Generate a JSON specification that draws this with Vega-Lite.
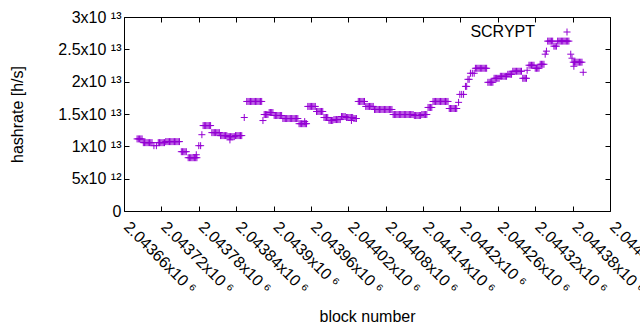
{
  "$schema": "https://vega.github.io/schema/vega-lite/v6.json",
  "width": 486,
  "height": 194,
  "autosize": {"type": "none"},
  "padding": {"left": 124, "top": 17, "right": 30, "bottom": 119},
  "background": "white",
  "config": {
    "font": "Liberation Sans",
    "view": {"stroke": "black", "strokeWidth": 1},
    "axis": {
      "grid": false,
      "domain": false,
      "tickColor": "black",
      "tickSize": -5,
      "tickWidth": 1,
      "labelFont": "Liberation Sans",
      "labelFontSize": 16,
      "labelColor": "black",
      "titleFont": "Liberation Sans",
      "titleFontSize": 16,
      "titleFontWeight": "normal",
      "titleColor": "black",
      "labelOverlap": false,
      "labelFlush": false
    }
  },
  "data": {
    "values": [
      {"b": 2043681, "h": 1.115e13}, {"b": 2043683, "h": 1.115e13}, {"b": 2043685, "h": 1.115e13}, {"b": 2043687, "h": 1.115e13}, {"b": 2043689, "h": 1.115e13},
      {"b": 2043691, "h": 1.057e13}, {"b": 2043693, "h": 1.057e13}, {"b": 2043695, "h": 1.057e13}, {"b": 2043697, "h": 1.057e13}, {"b": 2043699, "h": 1.057e13}, {"b": 2043701, "h": 1.057e13}, {"b": 2043703, "h": 1.057e13}, {"b": 2043705, "h": 1.057e13},
      {"b": 2043708, "h": 1.01e13}, {"b": 2043712, "h": 1.01e13},
      {"b": 2043715, "h": 1.057e13}, {"b": 2043717, "h": 1.057e13}, {"b": 2043719, "h": 1.057e13}, {"b": 2043721, "h": 1.057e13}, {"b": 2043723, "h": 1.057e13}, {"b": 2043725, "h": 1.057e13},
      {"b": 2043727, "h": 1.073e13}, {"b": 2043729, "h": 1.073e13}, {"b": 2043731, "h": 1.073e13}, {"b": 2043733, "h": 1.073e13}, {"b": 2043735, "h": 1.073e13}, {"b": 2043737, "h": 1.073e13}, {"b": 2043739, "h": 1.073e13}, {"b": 2043741, "h": 1.073e13}, {"b": 2043743, "h": 1.073e13}, {"b": 2043745, "h": 1.073e13}, {"b": 2043747, "h": 1.073e13}, {"b": 2043749, "h": 1.073e13},
      {"b": 2043752, "h": 9.17e12}, {"b": 2043754, "h": 9.17e12}, {"b": 2043756, "h": 9.17e12}, {"b": 2043758, "h": 9.17e12}, {"b": 2043760, "h": 9.17e12},
      {"b": 2043763, "h": 8.24e12}, {"b": 2043765, "h": 8.24e12}, {"b": 2043767, "h": 8.24e12}, {"b": 2043769, "h": 8.24e12}, {"b": 2043771, "h": 8.24e12}, {"b": 2043773, "h": 8.24e12}, {"b": 2043775, "h": 8.24e12}, {"b": 2043777, "h": 8.24e12}, {"b": 2043776, "h": 8.7e12},
      {"b": 2043780, "h": 1.01e13}, {"b": 2043783, "h": 1.01e13}, {"b": 2043785, "h": 1.18e13},
      {"b": 2043787, "h": 1.321e13}, {"b": 2043789, "h": 1.321e13}, {"b": 2043791, "h": 1.321e13}, {"b": 2043793, "h": 1.321e13}, {"b": 2043795, "h": 1.321e13}, {"b": 2043797, "h": 1.321e13}, {"b": 2043799, "h": 1.321e13},
      {"b": 2043801, "h": 1.212e13}, {"b": 2043803, "h": 1.212e13}, {"b": 2043805, "h": 1.212e13}, {"b": 2043807, "h": 1.212e13}, {"b": 2043809, "h": 1.212e13}, {"b": 2043811, "h": 1.212e13}, {"b": 2043813, "h": 1.212e13},
      {"b": 2043815, "h": 1.166e13}, {"b": 2043817, "h": 1.166e13}, {"b": 2043819, "h": 1.166e13}, {"b": 2043821, "h": 1.166e13}, {"b": 2043823, "h": 1.166e13}, {"b": 2043825, "h": 1.166e13},
      {"b": 2043827, "h": 1.15e13}, {"b": 2043829, "h": 1.15e13}, {"b": 2043831, "h": 1.15e13}, {"b": 2043833, "h": 1.15e13}, {"b": 2043835, "h": 1.15e13}, {"b": 2043837, "h": 1.15e13}, {"b": 2043830, "h": 1.1e13},
      {"b": 2043839, "h": 1.166e13}, {"b": 2043841, "h": 1.166e13}, {"b": 2043843, "h": 1.166e13}, {"b": 2043845, "h": 1.166e13}, {"b": 2043847, "h": 1.166e13}, {"b": 2043849, "h": 1.166e13},
      {"b": 2043853, "h": 1.446e13},
      {"b": 2043857, "h": 1.694e13}, {"b": 2043859, "h": 1.694e13}, {"b": 2043861, "h": 1.694e13}, {"b": 2043863, "h": 1.694e13}, {"b": 2043865, "h": 1.694e13}, {"b": 2043867, "h": 1.694e13}, {"b": 2043869, "h": 1.694e13}, {"b": 2043871, "h": 1.694e13}, {"b": 2043873, "h": 1.694e13}, {"b": 2043875, "h": 1.694e13}, {"b": 2043877, "h": 1.694e13}, {"b": 2043879, "h": 1.694e13}, {"b": 2043881, "h": 1.694e13},
      {"b": 2043883, "h": 1.399e13},
      {"b": 2043885, "h": 1.492e13}, {"b": 2043887, "h": 1.492e13}, {"b": 2043889, "h": 1.492e13}, {"b": 2043891, "h": 1.492e13},
      {"b": 2043893, "h": 1.523e13}, {"b": 2043895, "h": 1.523e13}, {"b": 2043897, "h": 1.523e13}, {"b": 2043899, "h": 1.523e13},
      {"b": 2043901, "h": 1.477e13}, {"b": 2043903, "h": 1.477e13}, {"b": 2043905, "h": 1.477e13}, {"b": 2043907, "h": 1.477e13}, {"b": 2043909, "h": 1.477e13}, {"b": 2043911, "h": 1.477e13}, {"b": 2043913, "h": 1.477e13},
      {"b": 2043915, "h": 1.43e13}, {"b": 2043917, "h": 1.43e13}, {"b": 2043919, "h": 1.43e13}, {"b": 2043921, "h": 1.43e13}, {"b": 2043923, "h": 1.43e13}, {"b": 2043925, "h": 1.43e13}, {"b": 2043927, "h": 1.43e13}, {"b": 2043929, "h": 1.43e13}, {"b": 2043931, "h": 1.43e13}, {"b": 2043933, "h": 1.43e13}, {"b": 2043935, "h": 1.43e13}, {"b": 2043937, "h": 1.43e13}, {"b": 2043939, "h": 1.43e13},
      {"b": 2043941, "h": 1.35e13}, {"b": 2043943, "h": 1.35e13}, {"b": 2043945, "h": 1.35e13}, {"b": 2043947, "h": 1.35e13}, {"b": 2043949, "h": 1.35e13}, {"b": 2043951, "h": 1.35e13}, {"b": 2043953, "h": 1.35e13}, {"b": 2043950, "h": 1.383e13},
      {"b": 2043955, "h": 1.617e13}, {"b": 2043957, "h": 1.617e13}, {"b": 2043959, "h": 1.617e13}, {"b": 2043961, "h": 1.617e13}, {"b": 2043963, "h": 1.617e13}, {"b": 2043965, "h": 1.617e13}, {"b": 2043967, "h": 1.617e13},
      {"b": 2043969, "h": 1.539e13}, {"b": 2043971, "h": 1.539e13}, {"b": 2043973, "h": 1.539e13}, {"b": 2043975, "h": 1.539e13}, {"b": 2043977, "h": 1.539e13}, {"b": 2043979, "h": 1.539e13},
      {"b": 2043981, "h": 1.446e13}, {"b": 2043983, "h": 1.446e13}, {"b": 2043985, "h": 1.446e13}, {"b": 2043987, "h": 1.446e13},
      {"b": 2043989, "h": 1.4e13}, {"b": 2043991, "h": 1.4e13}, {"b": 2043993, "h": 1.4e13}, {"b": 2043995, "h": 1.4e13},
      {"b": 2043997, "h": 1.414e13}, {"b": 2043999, "h": 1.414e13}, {"b": 2044001, "h": 1.414e13}, {"b": 2044003, "h": 1.414e13}, {"b": 2044005, "h": 1.414e13}, {"b": 2044007, "h": 1.414e13},
      {"b": 2044009, "h": 1.461e13}, {"b": 2044011, "h": 1.461e13}, {"b": 2044013, "h": 1.461e13}, {"b": 2044015, "h": 1.461e13},
      {"b": 2044017, "h": 1.446e13}, {"b": 2044019, "h": 1.446e13}, {"b": 2044021, "h": 1.446e13}, {"b": 2044023, "h": 1.446e13}, {"b": 2044025, "h": 1.446e13}, {"b": 2044027, "h": 1.446e13}, {"b": 2044025, "h": 1.4e13},
      {"b": 2044029, "h": 1.43e13}, {"b": 2044031, "h": 1.43e13}, {"b": 2044033, "h": 1.43e13},
      {"b": 2044036, "h": 1.694e13}, {"b": 2044038, "h": 1.694e13}, {"b": 2044040, "h": 1.694e13}, {"b": 2044042, "h": 1.694e13}, {"b": 2044044, "h": 1.694e13}, {"b": 2044046, "h": 1.694e13},
      {"b": 2044048, "h": 1.617e13}, {"b": 2044050, "h": 1.617e13}, {"b": 2044052, "h": 1.617e13}, {"b": 2044054, "h": 1.617e13}, {"b": 2044056, "h": 1.617e13}, {"b": 2044058, "h": 1.617e13}, {"b": 2044060, "h": 1.617e13},
      {"b": 2044062, "h": 1.57e13}, {"b": 2044064, "h": 1.57e13}, {"b": 2044066, "h": 1.57e13}, {"b": 2044068, "h": 1.57e13}, {"b": 2044070, "h": 1.57e13}, {"b": 2044072, "h": 1.57e13}, {"b": 2044074, "h": 1.57e13}, {"b": 2044076, "h": 1.57e13}, {"b": 2044078, "h": 1.57e13}, {"b": 2044080, "h": 1.57e13}, {"b": 2044082, "h": 1.57e13}, {"b": 2044084, "h": 1.57e13}, {"b": 2044086, "h": 1.57e13}, {"b": 2044088, "h": 1.57e13}, {"b": 2044090, "h": 1.57e13},
      {"b": 2044092, "h": 1.492e13}, {"b": 2044094, "h": 1.492e13}, {"b": 2044096, "h": 1.492e13}, {"b": 2044098, "h": 1.492e13}, {"b": 2044100, "h": 1.492e13}, {"b": 2044102, "h": 1.492e13}, {"b": 2044104, "h": 1.492e13}, {"b": 2044106, "h": 1.492e13}, {"b": 2044108, "h": 1.492e13}, {"b": 2044110, "h": 1.492e13}, {"b": 2044112, "h": 1.492e13}, {"b": 2044114, "h": 1.492e13}, {"b": 2044116, "h": 1.492e13}, {"b": 2044118, "h": 1.492e13}, {"b": 2044120, "h": 1.492e13}, {"b": 2044122, "h": 1.492e13}, {"b": 2044124, "h": 1.492e13},
      {"b": 2044126, "h": 1.477e13}, {"b": 2044128, "h": 1.477e13}, {"b": 2044130, "h": 1.477e13}, {"b": 2044132, "h": 1.477e13}, {"b": 2044134, "h": 1.477e13}, {"b": 2044136, "h": 1.477e13},
      {"b": 2044138, "h": 1.492e13}, {"b": 2044140, "h": 1.492e13}, {"b": 2044142, "h": 1.492e13}, {"b": 2044144, "h": 1.492e13}, {"b": 2044146, "h": 1.492e13},
      {"b": 2044148, "h": 1.601e13}, {"b": 2044150, "h": 1.601e13}, {"b": 2044152, "h": 1.601e13}, {"b": 2044154, "h": 1.601e13},
      {"b": 2044156, "h": 1.694e13}, {"b": 2044158, "h": 1.694e13}, {"b": 2044160, "h": 1.694e13}, {"b": 2044162, "h": 1.694e13}, {"b": 2044164, "h": 1.694e13}, {"b": 2044166, "h": 1.694e13}, {"b": 2044168, "h": 1.694e13}, {"b": 2044170, "h": 1.694e13}, {"b": 2044172, "h": 1.694e13}, {"b": 2044174, "h": 1.694e13}, {"b": 2044176, "h": 1.694e13}, {"b": 2044178, "h": 1.694e13}, {"b": 2044180, "h": 1.694e13},
      {"b": 2044182, "h": 1.585e13}, {"b": 2044184, "h": 1.585e13}, {"b": 2044186, "h": 1.585e13}, {"b": 2044188, "h": 1.585e13}, {"b": 2044190, "h": 1.585e13}, {"b": 2044192, "h": 1.585e13}, {"b": 2044194, "h": 1.585e13},
      {"b": 2044197, "h": 1.68e13},
      {"b": 2044199, "h": 1.803e13}, {"b": 2044202, "h": 1.803e13}, {"b": 2044205, "h": 1.803e13},
      {"b": 2044208, "h": 1.927e13}, {"b": 2044210, "h": 1.927e13},
      {"b": 2044212, "h": 2.036e13}, {"b": 2044214, "h": 2.036e13},
      {"b": 2044216, "h": 2.13e13}, {"b": 2044219, "h": 2.13e13}, {"b": 2044222, "h": 2.13e13},
      {"b": 2044224, "h": 2.207e13}, {"b": 2044226, "h": 2.207e13}, {"b": 2044228, "h": 2.207e13}, {"b": 2044230, "h": 2.207e13}, {"b": 2044232, "h": 2.207e13}, {"b": 2044234, "h": 2.207e13}, {"b": 2044236, "h": 2.207e13}, {"b": 2044238, "h": 2.207e13}, {"b": 2044240, "h": 2.207e13}, {"b": 2044242, "h": 2.207e13},
      {"b": 2044244, "h": 1.99e13}, {"b": 2044246, "h": 1.99e13}, {"b": 2044248, "h": 1.99e13}, {"b": 2044250, "h": 1.99e13}, {"b": 2044252, "h": 1.99e13},
      {"b": 2044254, "h": 2.052e13}, {"b": 2044256, "h": 2.052e13}, {"b": 2044258, "h": 2.052e13}, {"b": 2044260, "h": 2.052e13}, {"b": 2044262, "h": 2.052e13},
      {"b": 2044264, "h": 2.083e13}, {"b": 2044266, "h": 2.083e13}, {"b": 2044268, "h": 2.083e13}, {"b": 2044270, "h": 2.083e13}, {"b": 2044272, "h": 2.083e13}, {"b": 2044274, "h": 2.083e13},
      {"b": 2044276, "h": 2.114e13}, {"b": 2044278, "h": 2.114e13}, {"b": 2044280, "h": 2.114e13}, {"b": 2044282, "h": 2.114e13},
      {"b": 2044284, "h": 2.161e13}, {"b": 2044286, "h": 2.161e13}, {"b": 2044288, "h": 2.161e13}, {"b": 2044290, "h": 2.161e13}, {"b": 2044292, "h": 2.161e13}, {"b": 2044294, "h": 2.161e13}, {"b": 2044296, "h": 2.161e13}, {"b": 2044298, "h": 2.161e13},
      {"b": 2044300, "h": 2.052e13}, {"b": 2044302, "h": 2.052e13}, {"b": 2044304, "h": 2.052e13}, {"b": 2044306, "h": 2.052e13}, {"b": 2044307, "h": 2.176e13},
      {"b": 2044310, "h": 2.254e13}, {"b": 2044312, "h": 2.254e13}, {"b": 2044314, "h": 2.254e13}, {"b": 2044316, "h": 2.254e13}, {"b": 2044318, "h": 2.254e13},
      {"b": 2044320, "h": 2.207e13}, {"b": 2044322, "h": 2.207e13}, {"b": 2044324, "h": 2.207e13}, {"b": 2044326, "h": 2.207e13},
      {"b": 2044328, "h": 2.269e13}, {"b": 2044330, "h": 2.269e13}, {"b": 2044332, "h": 2.269e13}, {"b": 2044334, "h": 2.269e13},
      {"b": 2044336, "h": 2.425e13}, {"b": 2044338, "h": 2.472e13},
      {"b": 2044340, "h": 2.627e13}, {"b": 2044342, "h": 2.627e13}, {"b": 2044344, "h": 2.627e13}, {"b": 2044346, "h": 2.627e13}, {"b": 2044348, "h": 2.627e13},
      {"b": 2044350, "h": 2.549e13}, {"b": 2044352, "h": 2.549e13}, {"b": 2044354, "h": 2.549e13},
      {"b": 2044356, "h": 2.627e13}, {"b": 2044358, "h": 2.627e13}, {"b": 2044360, "h": 2.627e13}, {"b": 2044362, "h": 2.627e13}, {"b": 2044364, "h": 2.627e13}, {"b": 2044366, "h": 2.627e13}, {"b": 2044368, "h": 2.627e13}, {"b": 2044370, "h": 2.627e13}, {"b": 2044372, "h": 2.627e13}, {"b": 2044374, "h": 2.627e13},
      {"b": 2044377, "h": 2.425e13}, {"b": 2044379, "h": 2.363e13},
      {"b": 2044381, "h": 2.301e13}, {"b": 2044383, "h": 2.301e13}, {"b": 2044385, "h": 2.301e13}, {"b": 2044387, "h": 2.301e13}, {"b": 2044389, "h": 2.301e13}, {"b": 2044391, "h": 2.301e13}, {"b": 2044393, "h": 2.301e13}, {"b": 2044395, "h": 2.301e13}, {"b": 2044382, "h": 2.238e13},
      {"b": 2044397, "h": 2.145e13}
    ]
  },
  "layer": [
    {
      "mark": {"type": "point", "shape": "M-1,0L1,0M0,-1L0,1", "filled": false, "size": 49, "strokeWidth": 1, "opacity": 1},
      "encoding": {
        "x": {
          "field": "b", "type": "quantitative",
          "scale": {"domain": [2043660, 2044440], "nice": false, "zero": false},
          "axis": {
            "orient": "bottom",
            "values": [2043660, 2043720, 2043780, 2043840, 2043900, 2043960, 2044020, 2044080, 2044140, 2044200, 2044260, 2044320, 2044380, 2044440],
            "labelExpr": "(datum.value / 1000000) + 'x10\u00a0⁶'",
            "labelAngle": 45,
            "labelAlign": "left",
            "labelBaseline": "middle",
            "labelPadding": 18,
            "labelOffset": 2,
            "title": "block number",
            "titleBaseline": "alphabetic",
            "titleY": 110
          }
        },
        "y": {
          "field": "h", "type": "quantitative",
          "scale": {"domain": [0, 30000000000000], "nice": false, "zero": true},
          "axis": {
            "orient": "left",
            "values": [0, 5000000000000, 10000000000000, 15000000000000, 20000000000000, 25000000000000, 30000000000000],
            "labelExpr": "datum.value == 0 ? '0\u00a0\u00a0' : (datum.value < 10000000000000 ? (datum.value / 1000000000000) + 'x10\u00a0¹²' : (datum.value / 10000000000000) + 'x10\u00a0¹³')",
            "labelPadding": 8,
            "title": "hashrate [h/s]",
            "titleX": -107,
            "titleBaseline": "middle"
          }
        },
        "color": {
          "datum": "SCRYPT",
          "scale": {"range": ["#9400d3"]},
          "legend": {
            "orient": "none",
            "legendX": 435,
            "legendY": 7,
            "title": null,
            "padding": 0,
            "symbolType": "M-1,0L1,0M0,-1L0,1",
            "symbolSize": 49,
            "symbolStrokeWidth": 1,
            "symbolStrokeColor": "#9400d3",
            "symbolFillColor": "transparent",
            "labelAlign": "right",
            "labelOffset": -40,
            "labelFont": "Liberation Sans",
            "labelFontSize": 16,
            "labelColor": "black",
            "labelLimit": 0
          }
        }
      }
    },
    {
      "mark": {"type": "point", "opacity": 0},
      "encoding": {
        "x": {
          "field": "b", "type": "quantitative",
          "axis": {
            "orient": "top",
            "values": [2043660, 2043720, 2043780, 2043840, 2043900, 2043960, 2044020, 2044080, 2044140, 2044200, 2044260, 2044320, 2044380, 2044440],
            "labels": false,
            "title": null
          }
        },
        "y": {
          "field": "h", "type": "quantitative",
          "axis": {
            "orient": "right",
            "values": [0, 5000000000000, 10000000000000, 15000000000000, 20000000000000, 25000000000000, 30000000000000],
            "labels": false,
            "title": null
          }
        }
      }
    }
  ]
}
